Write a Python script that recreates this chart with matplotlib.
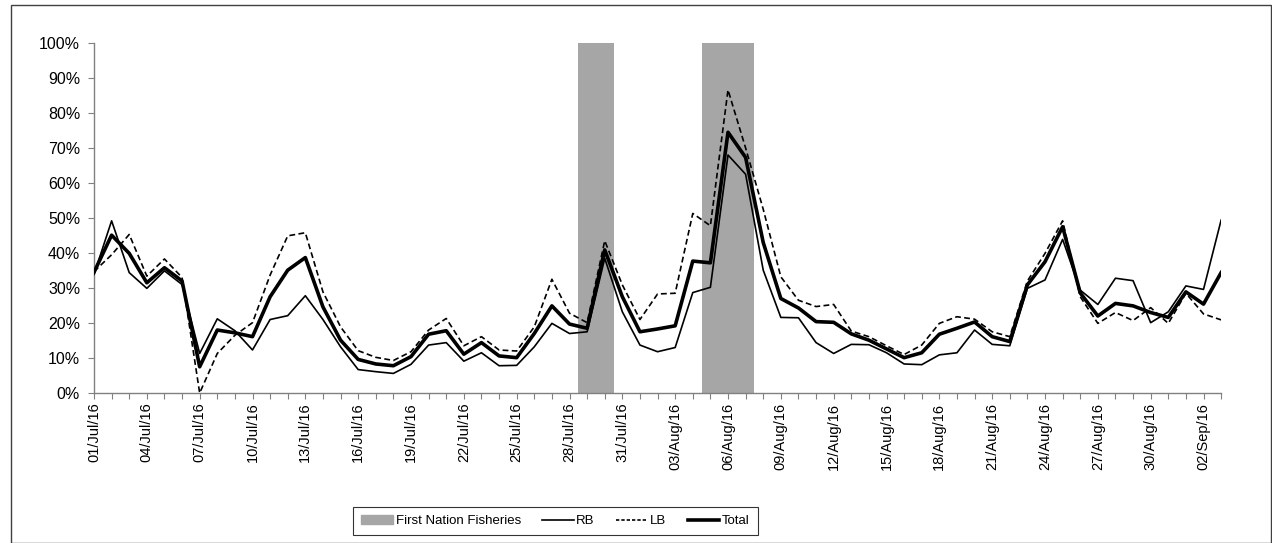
import matplotlib
matplotlib.use("Agg")
import matplotlib.pyplot as plt
from matplotlib.patches import Patch, Rectangle
from matplotlib.lines import Line2D
from matplotlib.ticker import PercentFormatter
import pandas as pd

plt.rcParams['font.family'] = ['Liberation Sans', 'DejaVu Sans']

# --- Data ---
dates = pd.date_range("2016-07-01", "2016-09-03", freq="D")

rb = [33.9, 49.2, 34.4, 29.9, 34.9, 31.0, 11.3, 21.2, 17.8, 12.3,
      21.0, 22.1, 27.8, 21.0, 13.2, 6.7, 6.1, 5.6, 8.2, 13.7,
      14.4, 9.1, 11.5, 7.8, 7.9, 13.2, 19.9, 17.0, 17.5, 38.5,
      23.2, 13.7, 11.8, 13.0, 28.7, 30.2, 68.0, 62.5, 35.1, 21.6,
      21.5, 14.4, 11.3, 13.9, 13.8, 11.5, 8.3, 8.1, 10.9, 11.5,
      18.0, 13.9, 13.5, 29.9, 32.3, 43.9, 29.4, 25.3, 32.8, 32.1,
      20.1, 23.2, 30.6, 29.6, 49.4]

lb = [34.7, 39.5, 45.3, 33.4, 38.3, 33.0, 0.0, 11.3, 16.5, 20.1,
      33.7, 44.9, 45.8, 28.9, 18.9, 12.1, 10.2, 9.3, 11.8, 18.0,
      21.3, 13.5, 16.1, 12.3, 12.0, 18.9, 32.5, 22.8, 20.1, 43.5,
      30.9, 21.0, 28.3, 28.5, 51.3, 47.8, 86.6, 70.0, 52.5, 33.2,
      26.5, 24.7, 25.3, 17.7, 16.1, 13.5, 11.0, 13.7, 19.9, 21.8,
      21.1, 17.5, 16.1, 32.0, 39.9, 49.2, 27.5, 19.9, 23.0, 20.7,
      24.4, 19.9, 28.5, 22.6, 20.9]

total = [34.5, 45.1, 39.9, 31.5, 35.8, 32.0, 7.5, 18.0, 17.2, 16.1,
         27.5, 35.1, 38.7, 24.6, 15.1, 9.6, 8.3, 7.8, 10.4, 16.8,
         17.8, 11.1, 14.4, 10.6, 10.1, 17.0, 24.9, 19.7, 18.5, 40.9,
         27.5, 17.5, 18.3, 19.2, 37.7, 37.2, 74.5, 67.3, 43.0, 27.0,
         24.3, 20.4, 20.2, 16.9, 15.1, 12.6, 10.1, 11.5, 16.8, 18.5,
         20.3, 16.1, 14.7, 30.9, 37.5, 47.5, 28.6, 22.0, 25.6, 24.9,
         23.0, 21.6, 28.9, 25.4, 34.4]

# First Nation fishery openings (full-height shading)
fishery_days = ["2016-07-29", "2016-07-30",
                "2016-08-05", "2016-08-06", "2016-08-07"]

x = list(range(len(dates)))
fish_x = [dates.get_loc(pd.Timestamp(d)) for d in fishery_days]

fig = plt.figure(figsize=(12.72, 5.43), dpi=100)
ax = fig.add_axes([0.0739, 0.2762, 0.8861, 0.6446])

ax.bar(fish_x, [100] * len(fish_x), width=1.0, color="#a6a6a6",
       edgecolor="#a6a6a6", linewidth=0, zorder=1)
ax.plot(x, rb, color="black", lw=1.2, zorder=3)
ax.plot(x, lb, color="black", lw=1.2, ls=(0, (3.5, 2)), zorder=3)
ax.plot(x, total, color="black", lw=2.6, zorder=4)

ax.set_xlim(0, len(dates) - 1)
ax.set_ylim(0, 100)
ax.set_yticks(range(0, 101, 10))
ax.yaxis.set_major_formatter(PercentFormatter(decimals=0))

ax.set_xticks(x)
ax.set_xticklabels([d.strftime("%d/%b/%y") if i % 3 == 0 else ""
                    for i, d in enumerate(dates)], rotation=90)

for side in ("top", "right"):
    ax.spines[side].set_visible(False)
for side in ("left", "bottom"):
    ax.spines[side].set_color("#808080")
    ax.spines[side].set_linewidth(1.0)
ax.tick_params(axis="both", direction="out", length=4, color="#808080",
               labelcolor="black")
ax.tick_params(axis="x", pad=3, labelsize=10.5)
ax.tick_params(axis="y", pad=6, labelsize=11.5)

handles = [Patch(facecolor="#a6a6a6", edgecolor="#a6a6a6"),
           Line2D([], [], color="black", lw=1.2),
           Line2D([], [], color="black", lw=1.2, ls=(0, (2, 1.2))),
           Line2D([], [], color="black", lw=2.6)]
leg = fig.legend(handles, ["First Nation Fisheries", "RB", "LB", "Total"],
                 loc="center", bbox_to_anchor=(0.4367, 0.0405), ncol=4,
                 fontsize=9.5, frameon=True, fancybox=False,
                 handlelength=2.4, handletextpad=0.2, columnspacing=1.6,
                 borderpad=0.62, borderaxespad=0)
leg.get_frame().set_edgecolor("black")
leg.get_frame().set_linewidth(0.8)

# chart-area border
fig.patches.append(Rectangle((11 / 1272, 0.0), 1 - 11 / 1272 - 0.0008, 1 - 5 / 543,
                             transform=fig.transFigure, fill=False,
                             edgecolor="#404040", lw=1.0))

fig.savefig("out.png", dpi=100)
